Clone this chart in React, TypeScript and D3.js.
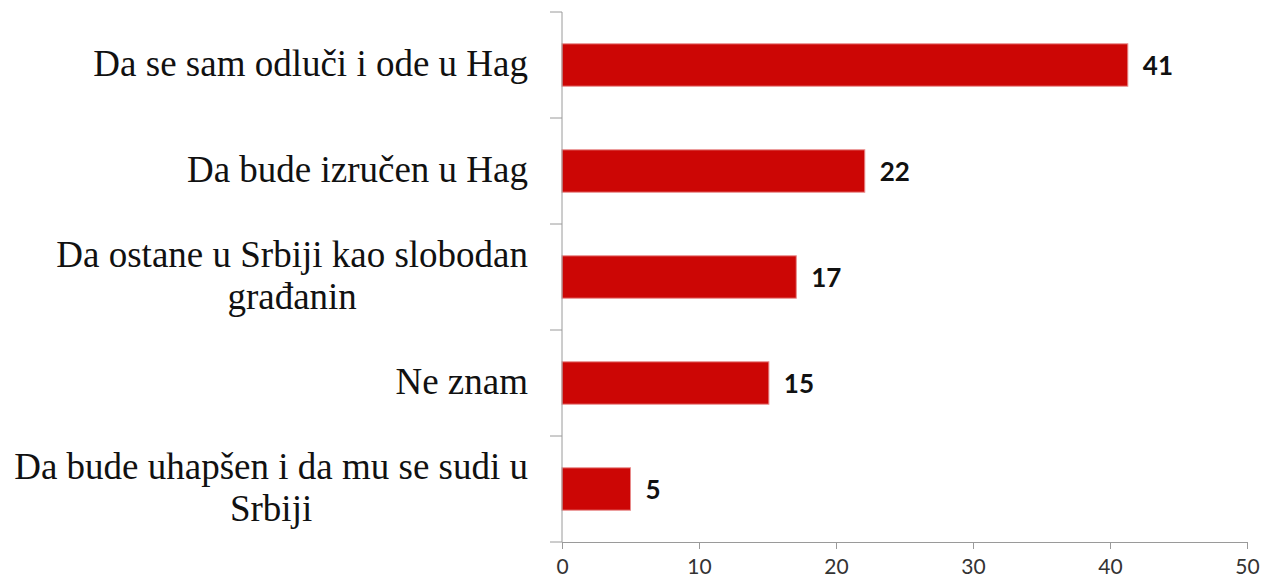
import React, { useRef, useEffect } from "react";
import * as d3 from "d3";

// categories top -> bottom, each label split into its wrapped lines
const categories = [
  "Da se sam odluči i ode u Hag",
  "Da bude izručen u Hag",
  "Da ostane u Srbiji kao slobodan građanin",
  "Ne znam",
  "Da bude uhapšen i da mu se sudi u Srbiji",
];
const labelLines = [
  ["Da se sam odluči i ode u Hag"],
  ["Da bude izručen u Hag"],
  ["Da ostane u Srbiji kao slobodan", "građanin"],
  ["Ne znam"],
  ["Da bude uhapšen i da mu se sudi u", "Srbiji"],
];
const values = [41.3, 22.1, 17.1, 15.1, 5];
const xTicks = [0, 10, 20, 30, 40, 50];

const App = () => {
  const svgRef = useRef(null);

  useEffect(() => {
    document.body.style.margin = "0";

    const width = 1266;
    const height = 581;
    const margin = { left: 562, right: 19, top: 12, bottom: 39 };

    const svg = d3.select(svgRef.current).attr("width", width).attr("height", height);
    svg.selectAll("*").remove();

    const xScale = d3
      .scaleLinear()
      .domain([0, 50])
      .range([margin.left, width - margin.right]);

    const yScale = d3
      .scaleBand()
      .domain(categories)
      .range([margin.top, height - margin.bottom])
      .paddingInner(0.6)
      .paddingOuter(0.3);

    const step = yScale.step();
    const axisColor = "#9a9a9a";

    // bars
    svg
      .append("g")
      .selectAll("rect")
      .data(values)
      .join("rect")
      .attr("x", xScale(0))
      .attr("y", (d, i) => yScale(categories[i]))
      .attr("width", (d) => xScale(d) - xScale(0))
      .attr("height", yScale.bandwidth())
      .attr("fill", "#cc0605")
      .attr("stroke", "#e88a8a")
      .attr("stroke-width", 1);

    // value labels
    svg
      .append("g")
      .selectAll("text")
      .data(values)
      .join("text")
      .attr("x", (d) => xScale(d) + 15)
      .attr("y", (d, i) => yScale(categories[i]) + yScale.bandwidth() / 2 + 9.5)
      .attr("font-family", "Lato, 'Open Sans', sans-serif")
      .attr("font-weight", "bold")
      .attr("font-size", 26)
      .attr("fill", "#111")
      .text((d) => d3.format(".0f")(d));

    // y axis: line + ticks at band boundaries
    const yAxis = svg.append("g");
    const yTop = margin.top;
    const yBottom = height - margin.bottom;
    yAxis
      .append("line")
      .attr("x1", xScale(0))
      .attr("x2", xScale(0))
      .attr("y1", yTop)
      .attr("y2", yBottom)
      .attr("stroke", axisColor);
    yAxis
      .selectAll(".ytick")
      .data(d3.range(categories.length + 1))
      .join("line")
      .attr("x1", xScale(0) - 12)
      .attr("x2", xScale(0))
      .attr("y1", (i) => yTop + i * step)
      .attr("y2", (i) => yTop + i * step)
      .attr("stroke", axisColor);

    // x axis
    const xAxis = d3
      .axisBottom(xScale)
      .tickValues(xTicks)
      .tickSize(7)
      .tickSizeOuter(0)
      .tickPadding(10);
    const xAxisGroup = svg
      .append("g")
      .attr("transform", `translate(0, ${yBottom})`)
      .call(xAxis);
    xAxisGroup.select(".domain").attr("stroke", axisColor);
    xAxisGroup.selectAll(".tick line").attr("stroke", axisColor);
    xAxisGroup
      .selectAll(".tick text")
      .attr("font-family", "Lato, 'Open Sans', sans-serif")
      .attr("font-size", 21)
      .attr("fill", "#333");

    // category labels (Times-like)
    const labelRight = 528;
    const lineHeight = 42;
    const labels = svg.append("g");
    labelLines.forEach((lines, i) => {
      const center = yScale(categories[i]) + yScale.bandwidth() / 2;
      const g = labels.append("g");
      const first = g
        .append("text")
        .attr("x", labelRight)
        .attr("y", center + 11 - ((lines.length - 1) / 2) * lineHeight)
        .attr("text-anchor", "end")
        .attr("font-family", "'Liberation Serif', 'Times New Roman', serif")
        .attr("font-size", 37)
        .attr("fill", "#111")
        .text(lines[0]);
      const w1 = first.node().getComputedTextLength();
      lines.slice(1).forEach((line, j) => {
        g.append("text")
          .attr("x", labelRight - w1 / 2)
          .attr("y", center + 11 + (j + 1 - (lines.length - 1) / 2) * lineHeight)
          .attr("text-anchor", "middle")
          .attr("font-family", "'Liberation Serif', 'Times New Roman', serif")
          .attr("font-size", 37)
          .attr("fill", "#111")
          .text(line);
      });
    });
  }, []);

  return (
    <div>
      <svg ref={svgRef} style={{ display: "block" }} />
    </div>
  );
};

export default App;
